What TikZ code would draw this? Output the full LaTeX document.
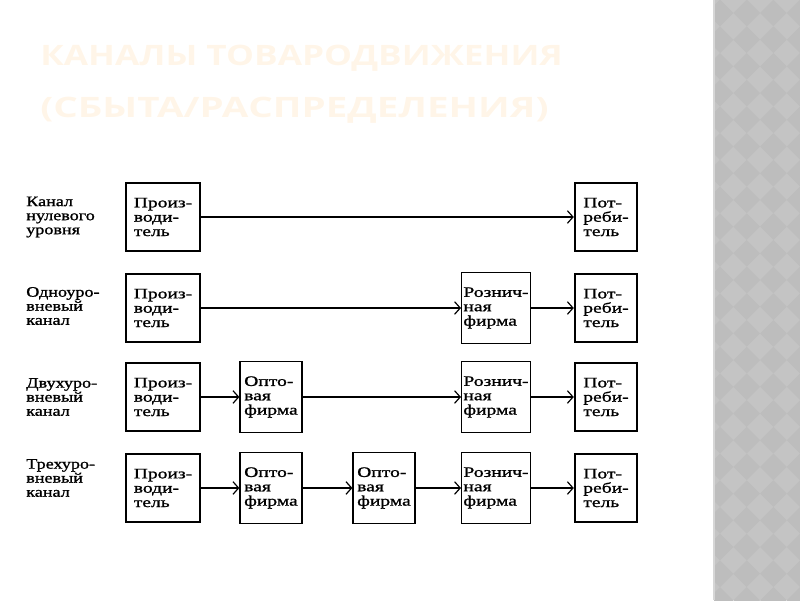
\documentclass[tikz,border=0pt]{standalone}
\usepackage{fontspec}
\setmainfont{Liberation Serif}
\newfontfamily\boxfont[FakeStretch=1.35, FakeBold=1.2]{Liberation Serif}
\newfontfamily\labelfont[FakeStretch=1.25, FakeBold=1.2]{Liberation Serif}
\newfontfamily\titlefont[FakeStretch=1.25]{Open Sans}
\newfontfamily\titlewidefont[FakeStretch=1.37]{Open Sans}
\usetikzlibrary{arrows.meta, positioning}
\definecolor{bandgray}{HTML}{C4C4C4}
\definecolor{banddark}{HTML}{BDBDBD}
\definecolor{bandedge}{HTML}{D6D6D6}
\definecolor{titlecream}{HTML}{FFF5E8}

\begin{document}
\begin{tikzpicture}[
    x=0.025cm, y=-0.025cm,
    box/.style      = {rectangle, draw, line width=0.85pt, inner sep=0pt,
                       align=left, font=\boxfont\fontsize{10.3}{10.2}\selectfont},
    endbox/.style   = {box, line width=1.7pt},
    prodbox/.style  = {endbox, minimum width=1.85cm, minimum height=1.7cm},
    consbox/.style  = {endbox, minimum width=1.55cm, minimum height=1.7cm},
    retbox/.style   = {box, minimum width=1.72cm, minimum height=1.77cm},
    wholebox/.style = {box, minimum width=1.55cm, minimum height=1.77cm},
    rowlabel/.style = {anchor=west, align=left, inner sep=0pt,
                       font=\labelfont\fontsize{10.3}{10}\selectfont},
    arr/.style      = {-{Straight Barb[length=4pt,width=9pt]}, line width=0.85pt}
]
\useasboundingbox (0,0) rectangle (800,600);

%% ---- right band with diamonds ----
\fill[bandgray] (713,0) rectangle (800,600);
\begin{scope}
    \clip (714,0) rectangle (800,600);
    \foreach \i in {0,...,4}{
        \foreach \j in {0,...,23}{
            \fill[banddark] ({720+26.7*\i},{13+26.7*\j}) ++(-13.3,0) -- ++(13.3,-13.3)
                -- ++(13.3,13.3) -- ++(-13.3,13.3) -- cycle;
        }
    }
\end{scope}
\draw[bandedge, line width=1.2pt] (714,0) -- (714,600);

%% ---- title ----
\node[anchor=north west, inner sep=0pt, align=left, text=titlecream,
      font=\bfseries\fontsize{20}{37}\selectfont]
      (title) at (40,45) {\titlefont КАНАЛЫ ТОВАРОДВИЖЕНИЯ\\\titlewidefont (СБЫТА/РАСПРЕДЕЛЕНИЯ)};

%% ---- row labels ----
\node[rowlabel] (lab0) at (26,217) {Канал\\нулевого\\уровня};
\node[rowlabel] (lab1) at (26,306) {Одноуро-\\вневый\\канал};
\node[rowlabel] (lab2) at (26,397) {Двухуро-\\вневый\\канал};
\node[rowlabel] (lab3) at (26,478) {Трехуро-\\вневый\\канал};

%% ---- row 0: zero level ----
\node[prodbox] (prod0) at (163,217) {Произ-\\води-\\тель};
\node[consbox] (cons0) at (606,217) {Пот-\\реби-\\тель};
\draw[arr] (prod0) -- (cons0);

%% ---- row 1: one level ----
\node[prodbox] (prod1) at (163,308) {Произ-\\води-\\тель};
\node[retbox]  (ret1)  at (496,308) {Рознич-\\ная\\фирма};
\node[consbox] (cons1) at (606,308) {Пот-\\реби-\\тель};
\draw[arr] (prod1) -- (ret1);
\draw[arr] (ret1)  -- (cons1);

%% ---- row 2: two levels ----
\node[prodbox]  (prod2)  at (163,397) {Произ-\\води-\\тель};
\node[wholebox] (whole2) at (271,397) {Опто-\\вая\\фирма};
\node[retbox]   (ret2)   at (496,397) {Рознич-\\ная\\фирма};
\node[consbox]  (cons2)  at (606,397) {Пот-\\реби-\\тель};
\draw[arr] (prod2)  -- (whole2);
\draw[arr] (whole2) -- (ret2);
\draw[arr] (ret2)   -- (cons2);

%% ---- row 3: three levels ----
\node[prodbox]  (prod3)   at (163,488) {Произ-\\води-\\тель};
\node[wholebox] (whole3a) at (271,488) {Опто-\\вая\\фирма};
\node[wholebox] (whole3b) at (384,488) {Опто-\\вая\\фирма};
\node[retbox]   (ret3)    at (496,488) {Рознич-\\ная\\фирма};
\node[consbox]  (cons3)   at (606,488) {Пот-\\реби-\\тель};
\draw[arr] (prod3)   -- (whole3a);
\draw[arr] (whole3a) -- (whole3b);
\draw[arr] (whole3b) -- (ret3);
\draw[arr] (ret3)    -- (cons3);

\end{tikzpicture}
\end{document}
